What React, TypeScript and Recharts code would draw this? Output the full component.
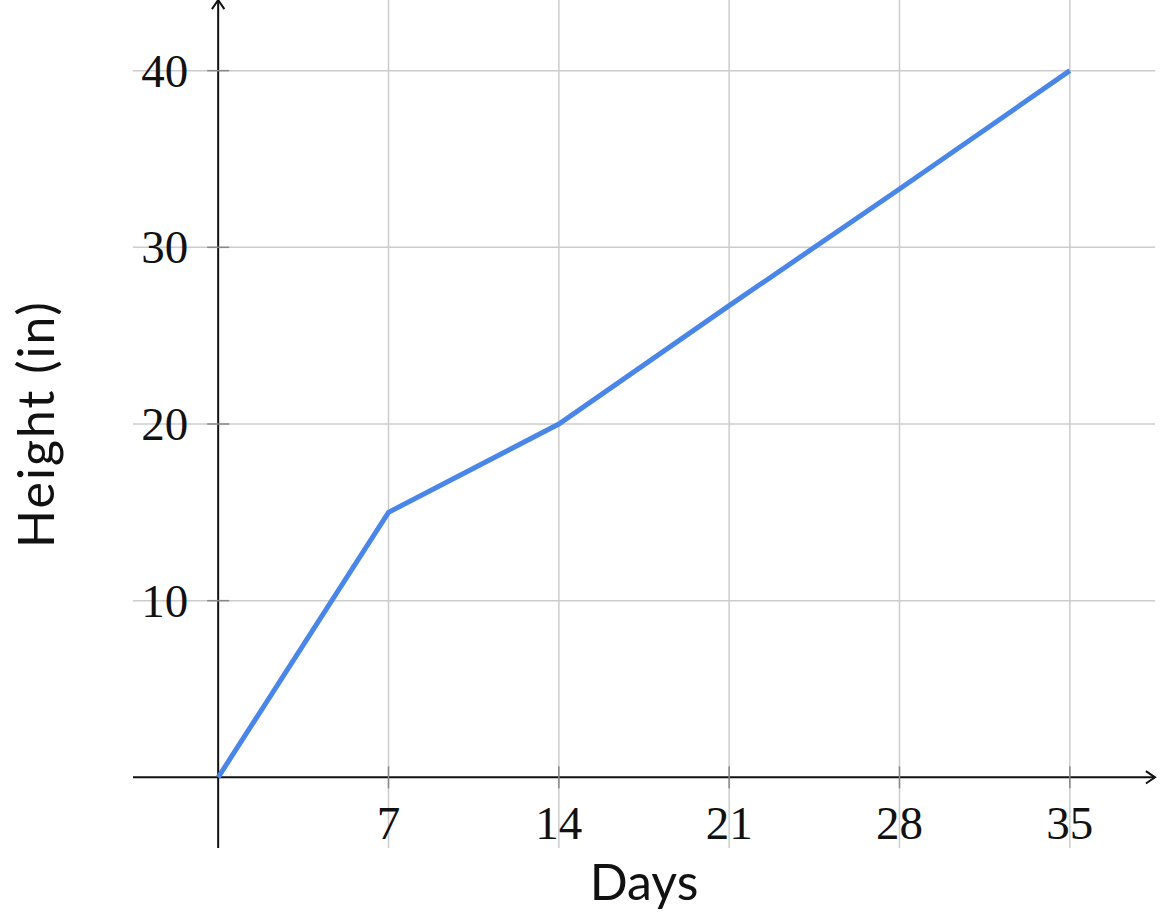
import React from 'react';
import { LineChart, Line, XAxis, YAxis, ReferenceLine } from 'recharts';

const days = [0, 7, 14, 21, 28, 35];
const heights = [0, 15, 20, 26.7, 33.3, 40];
const xTicks = [7, 14, 21, 28, 35];
const yTicks = [10, 20, 30, 40];

const data = days.map((d, i) => ({ day: d, height: heights[i] }));

const W = 1168;
const H = 912;
const X_MIN = -3.5;
const X_MAX = 38.5;
const Y_MIN = -4;
const Y_MAX = 44;
const PLOT_LEFT = 133;
const PLOT_RIGHT = 1155;
const PLOT_TOP = 0;
const PLOT_BOTTOM = 848;

// where the axes cross, in pixels
const AXIS_X = PLOT_LEFT + ((0 - X_MIN) / (X_MAX - X_MIN)) * (PLOT_RIGHT - PLOT_LEFT);
const AXIS_Y = PLOT_TOP + ((Y_MAX - 0) / (Y_MAX - Y_MIN)) * (PLOT_BOTTOM - PLOT_TOP);

const tickFont = '"Liberation Serif", serif';
const labelFont = 'Lato, sans-serif';
const gridColor = '#cccccc';

const XTick = (props: any) => {
  const { x, payload } = props;
  return (
    <g>
      <line x1={x} x2={x} y1={AXIS_Y - 11} y2={AXIS_Y + 11} stroke="#888" strokeWidth={1.5} />
      <text x={x} y={AXIS_Y + 62} textAnchor="middle" fontFamily={tickFont} fontSize={47} fill="#111">
        {payload.value}
      </text>
    </g>
  );
};

const YTick = (props: any) => {
  const { y, payload } = props;
  return (
    <g>
      <line x1={AXIS_X - 11} x2={AXIS_X + 11} y1={y} y2={y} stroke="#888" strokeWidth={1.5} />
      <text x={AXIS_X - 30} y={y + 16} textAnchor="end" fontFamily={tickFont} fontSize={47} fill="#111">
        {payload.value}
      </text>
    </g>
  );
};

const Arrow = (props: any) => {
  const { x1, y1, x2, y2 } = props;
  const ang = Math.atan2(y2 - y1, x2 - x1);
  const len = 11;
  const spread = 0.6;
  const ax = x2 - len * Math.cos(ang - spread);
  const ay = y2 - len * Math.sin(ang - spread);
  const bx = x2 - len * Math.cos(ang + spread);
  const by = y2 - len * Math.sin(ang + spread);
  return (
    <g>
      <line x1={x1} y1={y1} x2={x2} y2={y2} stroke="#111" strokeWidth={2} />
      <polyline points={`${ax},${ay} ${x2},${y2} ${bx},${by}`} fill="none" stroke="#111" strokeWidth={2} />
    </g>
  );
};

export default function App() {
  return (
    <div style={{ position: 'absolute', left: 0, top: 0, background: '#fff' }}>
      <LineChart width={W} height={H} data={data} margin={{ top: 0, right: W - PLOT_RIGHT, bottom: 0, left: 0 }}>
        <XAxis
          dataKey="day"
          type="number"
          domain={[X_MIN, X_MAX]}
          ticks={xTicks}
          allowDataOverflow
          axisLine={false}
          tickLine={false}
          height={H - PLOT_BOTTOM}
          tick={<XTick />}
        />
        <YAxis
          type="number"
          domain={[Y_MIN, Y_MAX]}
          ticks={yTicks}
          allowDataOverflow
          axisLine={false}
          tickLine={false}
          width={PLOT_LEFT}
          tick={<YTick />}
        />
        {/* grid lines */}
        {xTicks.map((t) => (
          <ReferenceLine key={`gx${t}`} x={t} stroke={gridColor} strokeWidth={1.5} />
        ))}
        {yTicks.map((t) => (
          <ReferenceLine key={`gy${t}`} y={t} stroke={gridColor} strokeWidth={1.5} />
        ))}
        <ReferenceLine x={0} shape={<Arrow />} />
        <ReferenceLine y={0} shape={<Arrow />} />
        <Line
          dataKey="height"
          type="linear"
          stroke="#4a86e8"
          strokeWidth={5}
          dot={false}
          isAnimationActive={false}
        />
        <text x={(PLOT_LEFT + PLOT_RIGHT) / 2} y={900} textAnchor="middle" fontFamily={labelFont} fontSize={50} fill="#111">
          Days
        </text>
        <text
          x={54}
          y={(PLOT_TOP + PLOT_BOTTOM) / 2}
          textAnchor="middle"
          fontFamily={labelFont}
          fontSize={50}
          fill="#111"
          letterSpacing={2}
          transform={`rotate(-90 54 ${(PLOT_TOP + PLOT_BOTTOM) / 2})`}
        >
          Height (in)
        </text>
      </LineChart>
    </div>
  );
}
